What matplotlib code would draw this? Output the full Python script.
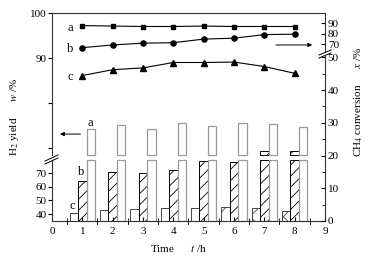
import matplotlib
matplotlib.use("Agg")
import matplotlib.pyplot as plt
from matplotlib.ticker import MultipleLocator, FixedLocator, FixedFormatter
import numpy as np

plt.rcParams['font.family'] = ['Liberation Serif', 'DejaVu Serif']
plt.rcParams['mathtext.fontset'] = 'stix'
plt.rcParams['hatch.linewidth'] = 0.6
plt.rcParams['font.size'] = 8

# data
hours = [1, 2, 3, 4, 5, 6, 7, 8]
line_a = [97.2, 97.1, 97.0, 97.0, 97.1, 97.0, 97.0, 97.0]
line_b = [92.3, 92.9, 93.3, 93.4, 94.2, 94.4, 95.2, 95.3]
line_c = [86.1, 87.4, 87.8, 89.0, 89.0, 89.1, 88.1, 86.6]
# bars use the lower left scale, which is broken between 79.5 and 83.2
bar_a = [102.2, 105.1, 102.2, 106.3, 104.6, 106.3, 105.8, 103.8]
bar_b = [64.2, 70.5, 70.3, 72.2, 78.8, 78.1, 86.0, 86.0]
bar_c = [40.9, 43.0, 43.5, 44.3, 44.7, 45.0, 44.3, 42.5]

left_low_ticks = [40, 50, 60, 70]
left_up_ticks = [70, 80, 90, 100]
left_up_labels = ['', '', '90', '100']
right_low_ticks = [0, 10, 20, 30, 40, 50]
right_up_ticks = [70, 80, 90]

W, H = 381, 261
L, R, T, B = 52, 325, 13, 221
rect = [L / W, (H - B) / H, (R - L) / W, (B - T) / H]
fig = plt.figure(figsize=(W / 100, H / 100), dpi=100)
frame = '#333333'

# bars axis
ax = fig.add_axes(rect)
bar_bottom, gap_lo, gap_hi = 35, 79.5, 83.2
ax.set_ylim(bar_bottom, bar_bottom + (B - T) / 1.37)
ax.set_xlim(0, 9)
x = np.array(hours, dtype=float)
w = 0.28


def broken_bar(xs, vals, **kw):
    vals = np.array(vals)
    low = np.minimum(vals, gap_lo)
    ax.bar(xs, low - bar_bottom, w, bottom=bar_bottom, **kw)
    up = vals > gap_hi
    if up.any():
        ax.bar(xs[up], vals[up] - gap_hi, w, bottom=gap_hi, **kw)


broken_bar(x - w, bar_c, color='white', edgecolor='#444444', hatch='x', lw=0.7)
broken_bar(x, bar_b, color='white', edgecolor='black', hatch='///', lw=0.7)
broken_bar(x + w, bar_a, color='white', edgecolor='#999999', lw=0.9)

for s in ['top', 'bottom', 'left']:
    ax.spines[s].set_color(frame)
    ax.spines[s].set_linewidth(0.8)
ax.spines['right'].set_visible(False)
ax.spines['left'].set_bounds(bar_bottom, gap_lo)
ax.set_xticks(range(10))
ax.xaxis.set_minor_locator(MultipleLocator(0.5))
ax.tick_params(axis='x', which='both', direction='in', top=False, length=3, pad=4, labelsize=8)
ax.tick_params(axis='x', which='minor', length=2)
ax.set_yticks(left_low_ticks)
ax.tick_params(axis='y', direction='out', length=3, pad=1, labelsize=8)
ax.text(0.67, 46, 'c', ha='center', va='center', fontsize=9)
ax.text(0.97, 71, 'b', ha='center', va='center', fontsize=9)
ax.text(1.27, 106.5, 'a', ha='center', va='center', fontsize=9)

# lines axis (upper left scale)
axl = fig.add_axes(rect, sharex=ax)
axl.patch.set_visible(False)
axl.set_ylim(100 - (B - T) / 4.5, 100)
axl.plot(hours, line_a, '-s', color='black', lw=0.8, ms=3.2)
axl.plot(hours, line_b, '-o', color='black', lw=0.8, ms=3.7)
axl.plot(hours, line_c, '-^', color='black', lw=0.8, ms=3.8)
for s in ['top', 'bottom', 'right']:
    axl.spines[s].set_visible(False)
axl.spines['left'].set_color(frame)
axl.spines['left'].set_linewidth(0.8)
axl.spines['left'].set_bounds(100 - (155 - T) / 4.5, 100)
axl.yaxis.set_major_locator(FixedLocator(left_up_ticks))
axl.yaxis.set_major_formatter(FixedFormatter(left_up_labels))
axl.tick_params(axis='y', direction='out', length=3, pad=1, labelsize=8)
axl.tick_params(axis='x', bottom=False, labelbottom=False)
axl.text(0.6, 96.7, 'a', ha='center', va='center', fontsize=9)
axl.text(0.6, 92.0, 'b', ha='center', va='center', fontsize=9)
axl.text(0.6, 85.8, 'c', ha='center', va='center', fontsize=9)
arrow = dict(arrowstyle='-|>', color='black', lw=0.7, mutation_scale=6)
axl.annotate('', xy=(0.17, 73.1), xytext=(1.03, 73.1), arrowprops=arrow)
axl.annotate('', xy=(8.67, 92.9), xytext=(7.29, 92.9), arrowprops=arrow,
             annotation_clip=False)

# right axis, lower part
axr = fig.add_axes(rect, sharex=ax)
axr.patch.set_visible(False)
axr.set_ylim(0, (B - T) / 3.275)
for s in ['top', 'bottom', 'left']:
    axr.spines[s].set_visible(False)
axr.spines['right'].set_color(frame)
axr.spines['right'].set_linewidth(0.8)
axr.spines['right'].set_bounds(0, (B - 56) / 3.275)
axr.yaxis.tick_right()
axr.set_yticks(right_low_ticks)
axr.yaxis.set_minor_locator(FixedLocator([5, 15, 25, 35, 45]))
axr.tick_params(axis='y', which='both', direction='in', length=3, pad=2, labelsize=8)
axr.tick_params(axis='y', which='minor', length=2)
axr.tick_params(axis='x', bottom=False, labelbottom=False)

# right axis, upper part
axr2 = fig.add_axes(rect, sharex=ax)
axr2.patch.set_visible(False)
top_r = 90 + (23.3 - T) / 1.05
axr2.set_ylim(top_r - (B - T) / 1.05, top_r)
for s in ['top', 'bottom', 'left']:
    axr2.spines[s].set_visible(False)
axr2.spines['right'].set_color(frame)
axr2.spines['right'].set_linewidth(0.8)
axr2.spines['right'].set_bounds(90 - (51 - 23.3) / 1.05, top_r)
axr2.yaxis.tick_right()
axr2.set_yticks(right_up_ticks)
axr2.tick_params(axis='y', direction='in', length=3, pad=2, labelsize=8)
axr2.tick_params(axis='x', bottom=False, labelbottom=False)

# break marks (figure pixels)
def px(xp, yp):
    return xp / W, (H - yp) / H


for y0 in (161, 164):
    (x1, y1), (x2, y2) = px(45, y0), px(58, y0 - 6)
    fig.add_artist(plt.Line2D([x1, x2], [y1, y2], color='black', lw=0.7))
for y0 in (55, 58):
    (x1, y1), (x2, y2) = px(319, y0), px(331, y0 - 5)
    fig.add_artist(plt.Line2D([x1, x2], [y1, y2], color='black', lw=0.7))

fig.text(15 / W, (H - 117) / H, 'H$_2$ yield      $w$ /%', rotation=90,
         ha='center', va='center', fontsize=8)
fig.text(359 / W, (H - 102) / H, 'CH$_4$ conversion      $x$ /%', rotation=90,
         ha='center', va='center', fontsize=8)
fig.text(178 / W, (H - 248) / H, 'Time      $t$ /h', ha='center', va='center', fontsize=8)

fig.savefig('out.png', dpi=100)
